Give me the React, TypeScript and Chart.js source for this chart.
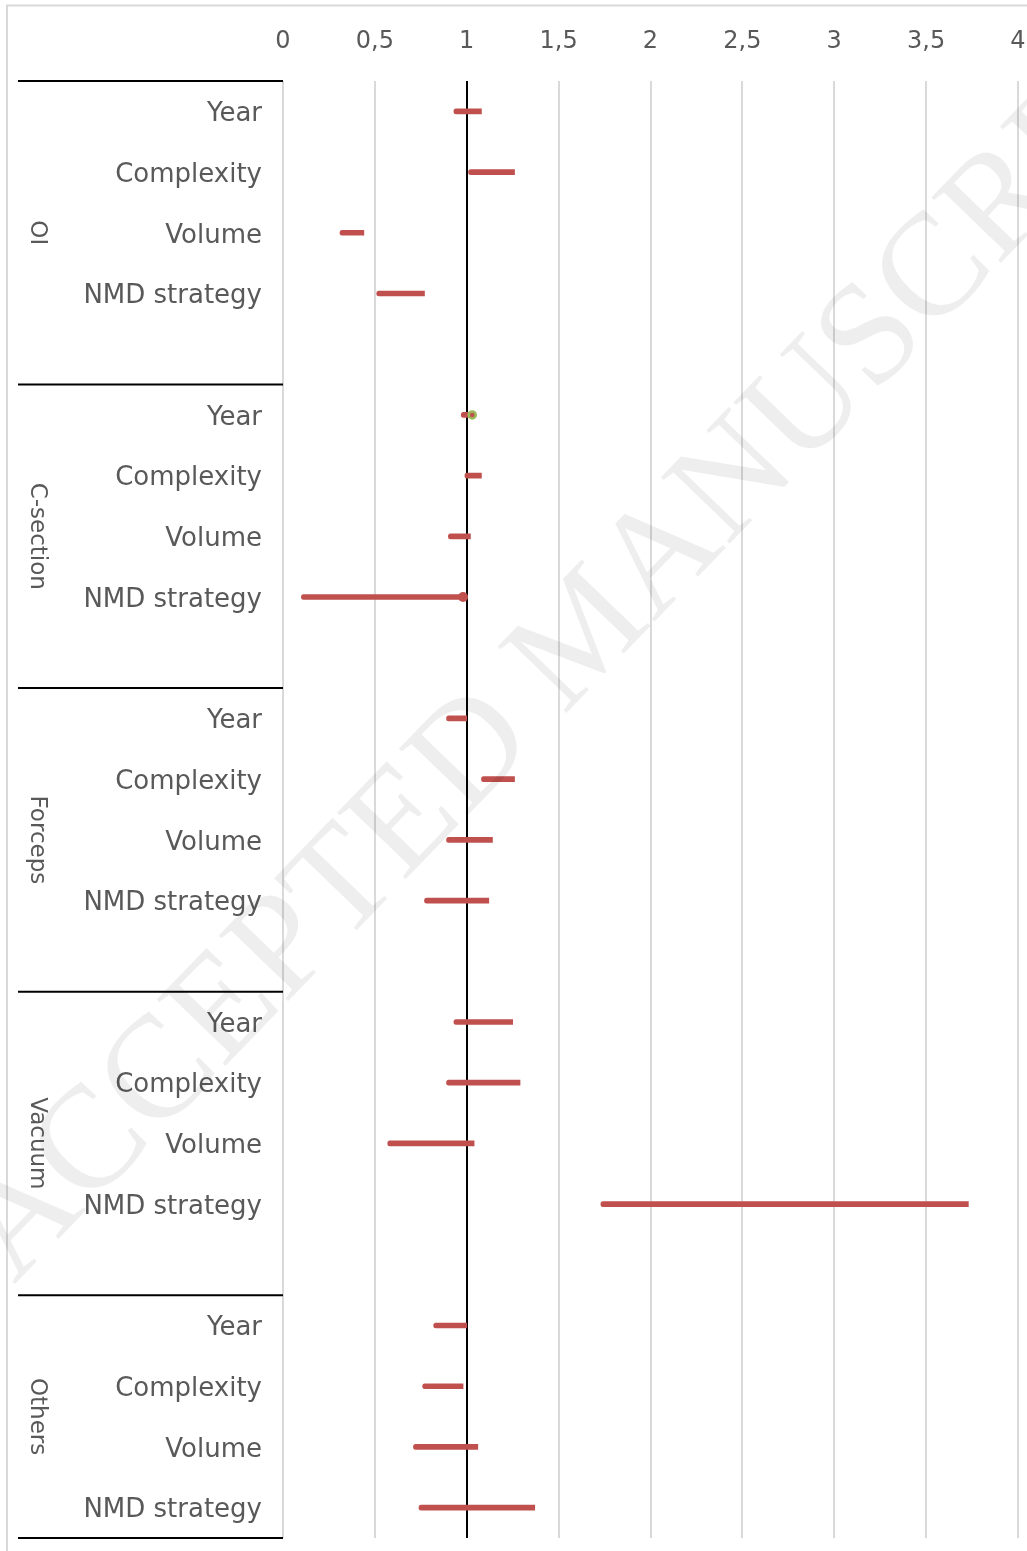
import { useEffect, useRef } from 'react';
import { Chart, registerables } from 'chart.js';

Chart.register(...registerables);

// ---- data ----
const groups = ['OI', 'C-section', 'Forceps', 'Vacuum', 'Others'];
const factors = ['Year', 'Complexity', 'Volume', 'NMD strategy'];

// [lower, upper] per factor (Year, Complexity, Volume, NMD strategy)
const oiRanges = [[0.93, 1.08], [1.01, 1.26], [0.31, 0.44], [0.51, 0.77]];
const cSectionRanges = [[0.97, 1.02], [0.99, 1.08], [0.9, 1.02], [0.1, 0.99]];
const forcepsRanges = [[0.89, 1.0], [1.08, 1.26], [0.89, 1.14], [0.77, 1.12]];
const vacuumRanges = [[0.93, 1.25], [0.89, 1.29], [0.57, 1.04], [1.73, 3.73]];
const othersRanges = [[0.82, 1.0], [0.76, 0.98], [0.71, 1.06], [0.74, 1.37]];

const groupRanges = [oiRanges, cSectionRanges, forcepsRanges, vacuumRanges, othersRanges];

// extra point markers
const greenMarkerGroup = 'C-section';
const greenMarkerFactor = 'Year';
const greenMarkerValue = 1.03;
const redMarkerGroup = 'C-section';
const redMarkerFactor = 'NMD strategy';
const redMarkerValue = 0.98;

const xMin = 0;
const xMax = 4;
const xStep = 0.5;

const watermarkText = 'ACCEPTED MANUSCRIPT';

// ---- build slots ----
const slotLabels: string[] = [];
const slotData: (number[] | null)[] = [];
const groupStarts: number[] = [];
const slotIndex: Record<string, number> = {};
groups.forEach((g, gi) => {
  groupStarts.push(slotLabels.length);
  factors.forEach((f, fi) => {
    slotIndex[g + '|' + f] = slotLabels.length;
    slotLabels.push(f);
    slotData.push(groupRanges[gi][fi]);
  });
  if (gi < groups.length - 1) {
    slotLabels.push('');
    slotData.push(null);
  }
});

const markerSeries = (g: string, f: string, v: number) =>
  slotLabels.map((_, i) => (i === slotIndex[g + '|' + f] ? v : null));

const RED = '#C0504D';
const GREEN = '#9BBB59';
const TEXT = '#595959';
const GRID = '#d9d9d9';
const FONT = '"DejaVu Sans", sans-serif';

const decorPlugin = {
  id: 'decor',
  beforeDraw(chart: any) {
    const ctx = chart.ctx;
    ctx.save();
    ctx.fillStyle = '#ffffff';
    ctx.fillRect(0, 0, chart.width, chart.height);
    ctx.strokeStyle = GRID;
    ctx.lineWidth = 2;
    ctx.beginPath();
    ctx.moveTo(7, chart.height);
    ctx.lineTo(7, 5.5);
    ctx.lineTo(chart.width, 5.5);
    ctx.stroke();
    ctx.restore();
  },
  afterDraw(chart: any) {
    const ctx = chart.ctx;
    const y = chart.scales.y;
    const area = chart.chartArea;
    const band = (area.bottom - area.top) / slotLabels.length;
    ctx.save();
    // group separator lines
    ctx.strokeStyle = '#000000';
    ctx.lineWidth = 2;
    const bounds: number[] = groupStarts.map((s) => y.getPixelForValue(s) - band / 2);
    bounds.push(area.bottom);
    bounds.forEach((b) => {
      ctx.beginPath();
      ctx.moveTo(18, b);
      ctx.lineTo(area.left, b);
      ctx.stroke();
    });
    // group labels
    ctx.fillStyle = TEXT;
    ctx.font = '23px ' + FONT;
    ctx.textAlign = 'center';
    ctx.textBaseline = 'middle';
    groups.forEach((g, gi) => {
      const cy = (bounds[gi] + bounds[gi + 1]) / 2;
      ctx.save();
      ctx.translate(37, cy);
      ctx.rotate(Math.PI / 2);
      ctx.fillText(g, 0, 0);
      ctx.restore();
    });
    // watermark
    ctx.save();
    ctx.translate(14, 1285);
    ctx.rotate((-46 * Math.PI) / 180);
    ctx.font = '146px "Liberation Serif", serif';
    ctx.fillStyle = 'rgba(0,0,0,0.065)';
    ctx.textAlign = 'left';
    ctx.textBaseline = 'alphabetic';
    ctx.fillText(watermarkText, 0, 0);
    ctx.restore();
    ctx.restore();
  },
};

export default function App() {
  const ref = useRef<HTMLCanvasElement | null>(null);
  useEffect(() => {
    if (!ref.current) return;
    const chart = new Chart(ref.current, {
      type: 'bar',
      data: {
        labels: slotLabels,
        datasets: [
          {
            type: 'bar',
            data: slotData as any,
            backgroundColor: RED,
            borderWidth: 0,
            barThickness: 5,
            borderSkipped: false,
            borderRadius: { topLeft: 2.5, bottomLeft: 2.5, topRight: 0, bottomRight: 0 },
            order: 3,
          } as any,
          {
            type: 'line',
            indexAxis: 'y',
            data: markerSeries(redMarkerGroup, redMarkerFactor, redMarkerValue),
            showLine: false,
            pointRadius: 5,
            pointBackgroundColor: RED,
            pointBorderColor: RED,
            pointBorderWidth: 0,
            order: 2,
          } as any,
          {
            type: 'line',
            indexAxis: 'y',
            data: markerSeries(greenMarkerGroup, greenMarkerFactor, greenMarkerValue),
            showLine: false,
            pointRadius: 3.5,
            pointBackgroundColor: RED,
            pointBorderColor: GREEN,
            pointBorderWidth: 2.5,
            order: 1,
          } as any,
        ],
      },
      options: {
        indexAxis: 'y',
        animation: false,
        responsive: false,
        events: [],
        layout: { padding: { left: 0, right: 9, top: 0, bottom: 13 } },
        plugins: { legend: { display: false }, tooltip: { enabled: false } },
        scales: {
          x: {
            type: 'linear',
            position: 'top',
            min: xMin,
            max: xMax,
            ticks: {
              stepSize: xStep,
              padding: 25,
              color: TEXT,
              font: { family: FONT, size: 24 },
              callback: (v: any) => String(v).replace('.', ','),
            },
            grid: {
              drawTicks: false,
              color: (c: any) => (c.tick && c.tick.value === 1 ? '#000000' : GRID),
              lineWidth: 2,
            },
            border: { display: false },
            afterFit: (s: any) => {
              s.height = 81;
              s.paddingLeft = 0;
              s.paddingRight = 0;
            },
          },
          y: {
            type: 'category',
            ticks: {
              autoSkip: false,
              padding: 21,
              labelOffset: 3,
              color: TEXT,
              font: { family: FONT, size: 26 },
            },
            grid: { display: false, drawTicks: false },
            border: { display: false },
            afterFit: (s: any) => {
              s.width = 283;
              s.paddingTop = 0;
              s.paddingBottom = 0;
            },
          },
        },
      } as any,
      plugins: [decorPlugin],
    });
    return () => chart.destroy();
  }, []);
  return (
    <div style={{ position: 'absolute', left: 0, top: 0, width: 1027, height: 1551, background: '#fff' }}>
      <canvas ref={ref} width={1027} height={1551} style={{ display: 'block' }} />
    </div>
  );
}
